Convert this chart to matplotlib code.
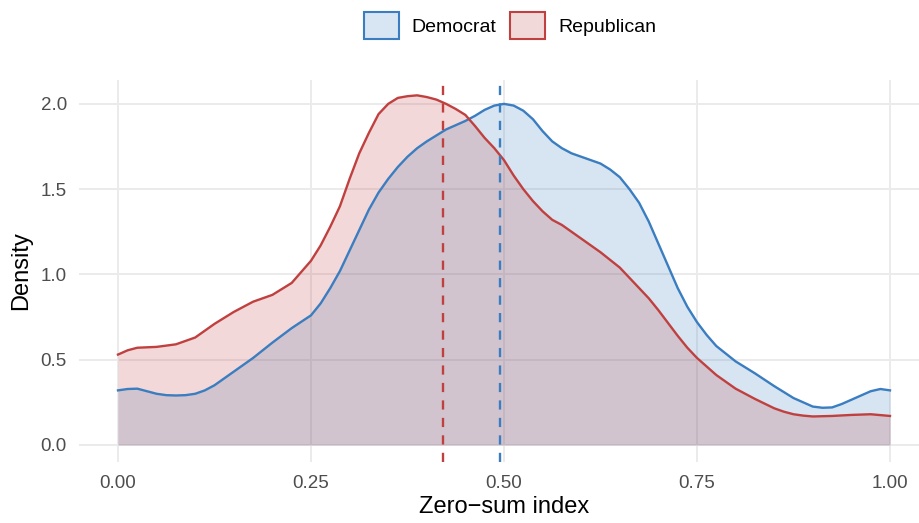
import numpy as np
import matplotlib
matplotlib.use("Agg")
import matplotlib.pyplot as plt
from matplotlib.patches import Patch

plt.rcParams['font.family'] = ['Liberation Sans', 'DejaVu Sans']

# densidades
x_rep = [0, 0.0125, 0.025, 0.05, 0.075, 0.1, 0.125, 0.15, 0.175, 0.2,
         0.225, 0.25, 0.2625, 0.275, 0.2875, 0.3, 0.3125, 0.325, 0.3375, 0.35,
         0.3625, 0.375, 0.3875, 0.4, 0.4125, 0.425, 0.4375, 0.45, 0.4625, 0.475,
         0.4875, 0.5, 0.5125, 0.525, 0.5375, 0.55, 0.5625, 0.575, 0.6, 0.625,
         0.65, 0.6625, 0.675, 0.6875, 0.7, 0.7125, 0.725, 0.7375, 0.75, 0.7625,
         0.775, 0.8, 0.825, 0.85, 0.8625, 0.875, 0.8875, 0.9, 0.925, 0.95,
         0.975, 1.0]
dens_rep = [0.53, 0.555, 0.57, 0.575, 0.59, 0.63, 0.71, 0.78, 0.84, 0.88,
            0.95, 1.08, 1.17, 1.28, 1.40, 1.56, 1.71, 1.83, 1.94, 2.00,
            2.035, 2.045, 2.05, 2.04, 2.025, 2.00, 1.97, 1.935, 1.87, 1.80,
            1.74, 1.67, 1.58, 1.50, 1.43, 1.37, 1.32, 1.29, 1.21, 1.13,
            1.04, 0.98, 0.92, 0.86, 0.79, 0.715, 0.64, 0.57, 0.51, 0.46,
            0.41, 0.33, 0.27, 0.215, 0.195, 0.18, 0.172, 0.167, 0.17, 0.176,
            0.18, 0.17]

x_dem = [0, 0.0125, 0.025, 0.0375, 0.05, 0.0625, 0.075, 0.0875, 0.1, 0.1125,
         0.125, 0.15, 0.175, 0.2, 0.225, 0.25, 0.2625, 0.275, 0.2875, 0.3,
         0.3125, 0.325, 0.3375, 0.35, 0.3625, 0.375, 0.3875, 0.4, 0.425, 0.45,
         0.4625, 0.475, 0.4875, 0.5, 0.5125, 0.525, 0.5375, 0.55, 0.5625, 0.575,
         0.5875, 0.6, 0.625, 0.6375, 0.65, 0.6625, 0.675, 0.6875, 0.7, 0.7125,
         0.725, 0.7375, 0.75, 0.7625, 0.775, 0.8, 0.825, 0.85, 0.875, 0.9,
         0.9125, 0.925, 0.9375, 0.95, 0.9625, 0.975, 0.9875, 1.0]
dens_dem = [0.32, 0.328, 0.33, 0.315, 0.30, 0.292, 0.29, 0.292, 0.30, 0.32,
            0.35, 0.43, 0.51, 0.60, 0.685, 0.76, 0.83, 0.92, 1.02, 1.14,
            1.26, 1.38, 1.48, 1.56, 1.63, 1.69, 1.74, 1.78, 1.85, 1.90,
            1.93, 1.965, 1.99, 2.00, 1.99, 1.96, 1.91, 1.84, 1.78, 1.74,
            1.71, 1.69, 1.65, 1.615, 1.57, 1.50, 1.42, 1.31, 1.18, 1.05,
            0.92, 0.81, 0.72, 0.645, 0.58, 0.49, 0.42, 0.345, 0.275, 0.225,
            0.218, 0.22, 0.24, 0.265, 0.29, 0.315, 0.328, 0.32]

partidos = ['Democrat', 'Republican']
medias = [0.495, 0.421]

col_linea = {'Democrat': '#3A7DC0', 'Republican': '#C0403F'}
alpha_fill = 0.2

fig = plt.figure(figsize=(9.2, 5.23), dpi=100)
W, H = 920, 523
# el panel se sale un poco por la derecha, como en el original
left, right, top, bottom = 79.4, 928.6, 80, 462
ax = fig.add_axes([left / W, 1 - bottom / H, (right - left) / W, (bottom - top) / H])

for s in ax.spines.values():
    s.set_visible(False)
ax.set_xlim(-0.05, 1.05)
ax.set_ylim(-0.1, 2.14)
ax.set_xticks([0, 0.25, 0.5, 0.75, 1.0])
ax.set_xticklabels(['0.00', '0.25', '0.50', '0.75', '1.00'])
ax.set_yticks([0, 0.5, 1.0, 1.5, 2.0])
ax.set_yticklabels(['0.0', '0.5', '1.0', '1.5', '2.0'])
ax.tick_params(length=0, labelsize=13.5, labelcolor='#4D4D4D')
ax.tick_params(axis='x', pad=9)
ax.tick_params(axis='y', pad=9)
ax.grid(True, color='#EBEBEB', linewidth=1.4)
ax.set_axisbelow(True)

series = {'Democrat': (x_dem, dens_dem), 'Republican': (x_rep, dens_rep)}
for p in partidos:
    c = col_linea[p]
    xs, ys = series[p]
    ax.fill_between(xs, 0, ys, color=c, alpha=alpha_fill, linewidth=0)
    ax.plot(xs, ys, color=c, linewidth=1.7, solid_joinstyle='round')

for p, m in zip(partidos, medias):
    ax.axvline(m, color=col_linea[p], linewidth=1.7, dashes=(3.9, 3.5))

ax.set_xlabel('Zero\u2212sum index', fontsize=17, labelpad=3)
ax.set_ylabel('Density', fontsize=17, labelpad=6)

handles = []
for p in partidos:
    c = matplotlib.colors.to_rgb(col_linea[p])
    fc = tuple(1 - alpha_fill * (1 - v) for v in c)
    handles.append(Patch(facecolor=fc, edgecolor=col_linea[p], linewidth=1.5))
fig.legend(handles, partidos, loc='center', bbox_to_anchor=(510 / W, 1 - 25.5 / H),
           ncol=2, frameon=False, fontsize=14, handlelength=1.8, handleheight=1.75,
           handletextpad=0.65, columnspacing=0.7, borderpad=0)

fig.savefig('out.png', dpi=100)
